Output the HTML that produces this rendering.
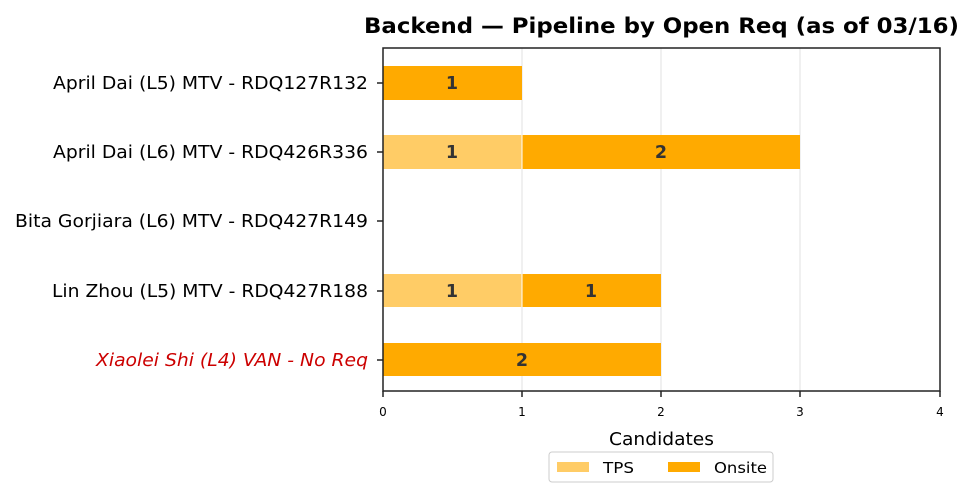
<!DOCTYPE html>
<html><head><style>body{margin:0;background:#fff}svg{display:block}text{font-family:"DejaVu Sans","Liberation Sans",sans-serif}</style></head>
<body>
<svg width="974" height="498" viewBox="0 0 974 498" xmlns="http://www.w3.org/2000/svg">
<rect width="974" height="498" fill="#fff"/>
<g stroke="#ebebeb" stroke-width="1.5">
<line x1="522" y1="48" x2="522" y2="391"/><line x1="661" y1="48" x2="661" y2="391"/><line x1="800" y1="48" x2="800" y2="391"/>
</g>
<rect x="383" y="66" width="139" height="34" fill="#ffaa00"/>
<rect x="383" y="135" width="139" height="34" fill="#ffcc66"/>
<rect x="522" y="135" width="278" height="34" fill="#ffaa00"/>
<rect x="383" y="274" width="139" height="33" fill="#ffcc66"/>
<rect x="522" y="274" width="139" height="33" fill="#ffaa00"/>
<rect x="383" y="343" width="278" height="33" fill="#ffaa00"/>
<line x1="522" y1="135" x2="522" y2="169" stroke="#fff" stroke-width="1"/>
<line x1="522" y1="274" x2="522" y2="307" stroke="#fff" stroke-width="1"/>
<g font-size="17.5" font-weight="bold" fill="#333" text-anchor="middle">
<text x="452" y="89">1</text><text x="452" y="158">1</text><text x="661" y="158">2</text>
<text x="452" y="297">1</text><text x="591" y="297">1</text><text x="522" y="366">2</text>
</g>
<rect x="383" y="48" width="557" height="343" fill="none" stroke="#222" stroke-width="1.5"/>
<g stroke="#222" stroke-width="1.5">
<line x1="377" y1="83" x2="383" y2="83"/><line x1="377" y1="152" x2="383" y2="152"/><line x1="377" y1="221" x2="383" y2="221"/><line x1="377" y1="291" x2="383" y2="291"/><line x1="377" y1="360" x2="383" y2="360"/>
<line x1="383" y1="391" x2="383" y2="397"/><line x1="522" y1="391" x2="522" y2="397"/><line x1="661" y1="391" x2="661" y2="397"/><line x1="800" y1="391" x2="800" y2="397"/><line x1="940" y1="391" x2="940" y2="397"/>
</g>
<g font-size="17.5" fill="#000" lengthAdjust="spacingAndGlyphs">
<text x="53" y="89" textLength="315" lengthAdjust="spacingAndGlyphs">April Dai (L5) MTV - RDQ127R132</text>
<text x="53" y="158" textLength="315" lengthAdjust="spacingAndGlyphs">April Dai (L6) MTV - RDQ426R336</text>
<text x="15" y="227" textLength="353" lengthAdjust="spacingAndGlyphs">Bita Gorjiara (L6) MTV - RDQ427R149</text>
<text x="52" y="297" textLength="316" lengthAdjust="spacingAndGlyphs">Lin Zhou (L5) MTV - RDQ427R188</text>
<text x="96" y="366" textLength="272" lengthAdjust="spacingAndGlyphs" fill="#cc0000" font-style="italic">Xiaolei Shi (L4) VAN - No Req</text>
</g>
<g font-size="12" text-anchor="middle" fill="#000">
<text x="383" y="416">0</text><text x="522" y="416">1</text><text x="661" y="416">2</text><text x="800" y="416">3</text><text x="940" y="416">4</text>
</g>
<text x="609" y="445" font-size="17.5" textLength="105" lengthAdjust="spacingAndGlyphs">Candidates</text>
<text x="364" y="33" font-size="21" font-weight="bold" textLength="595" lengthAdjust="spacingAndGlyphs">Backend — Pipeline by Open Req (as of 03/16)</text>
<rect x="549" y="452" width="224" height="30" rx="3" fill="#fff" stroke="#ccc" stroke-width="1"/>
<rect x="557" y="462" width="32" height="10" fill="#ffcc66"/>
<rect x="668" y="462" width="32" height="10" fill="#ffaa00"/>
<text x="603" y="473" font-size="15.5" textLength="31" lengthAdjust="spacingAndGlyphs">TPS</text>
<text x="714" y="473" font-size="15.5" textLength="53" lengthAdjust="spacingAndGlyphs">Onsite</text>
</svg>
</body></html>
